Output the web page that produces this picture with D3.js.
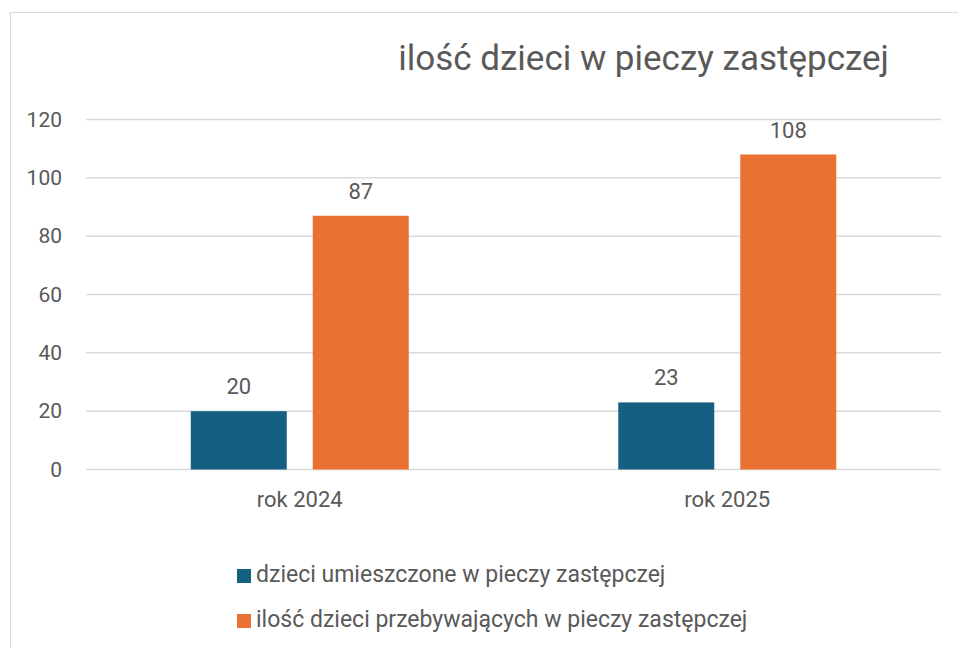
<!DOCTYPE html>
<html>
<head>
<meta charset="utf-8">
<script src="https://cdn.jsdelivr.net/npm/d3@7"></script>
<style>
  html, body { margin: 0; padding: 0; background: #fff; }
  svg text { font-family: Roboto, "Liberation Sans", sans-serif; fill: #595959; }
</style>
</head>
<body>
<svg class="chart"></svg>
<script>
const categories = ["rok 2024", "rok 2025"]
const seriesNames = ["dzieci umieszczone w pieczy zastępczej", "ilość dzieci przebywających w pieczy zastępczej"]
const placed = [20, 23]
const staying = [87, 108]
const yTicks = [0, 20, 40, 60, 80, 100, 120]
const colors = ["#156082", "#E97132"]

const W = 958, H = 648
const svg = d3.select(".chart").attr("width", W).attr("height", H)

// outer chart frame (runs off the right and bottom)
svg.append("rect")
    .attr("x", 10.5).attr("y", 12.5)
    .attr("width", 1000).attr("height", 1000)
    .attr("fill", "#fff").attr("stroke", "#d9d9d9").attr("stroke-width", 1)

svg.append("text")
    .attr("x", 889).attr("y", 70)
    .attr("text-anchor", "end")
    .style("font-size", "35px")
    .text("ilość dzieci w pieczy zastępczej")

const plot = { left: 86, right: 941, top: 119.5, bottom: 469.5 }

const x = d3.scaleBand().domain(categories).range([plot.left, plot.right])
const y = d3.scaleLinear().domain([0, 120]).range([plot.bottom, plot.top])

// gridlines
svg.append("g").selectAll("line").data(yTicks).join("line")
    .attr("x1", plot.left).attr("x2", plot.right)
    .attr("y1", d => y(d)).attr("y2", d => y(d))
    .attr("stroke", "#d9d9d9").attr("stroke-width", 1.5)

// y axis labels
const yAxis = d3.axisLeft(y).tickValues(yTicks).tickSize(0).tickPadding(0)
const gy = svg.append("g").attr("transform", "translate(62,0)").call(yAxis)
gy.select(".domain").remove()
gy.selectAll("text").style("font-size", "21px").attr("fill", "#595959")
    .style("font-family", "Roboto, 'Liberation Sans', sans-serif")

// x axis labels
const xAxis = d3.axisBottom(x).tickSize(0).tickPadding(0)
const gx = svg.append("g").attr("transform", "translate(0," + (plot.bottom + 22) + ")").call(xAxis)
gx.select(".domain").remove()
gx.selectAll("text").style("font-size", "22px").attr("fill", "#595959")
    .style("font-family", "Roboto, 'Liberation Sans', sans-serif")

// bars
const barW = 96, gap = 26
const series = [placed, staying]
const rows = []
categories.forEach((c, i) => series.forEach((s, j) => rows.push({ cat: c, s: j, v: s[i] })))
const offset = j => x.bandwidth() / 2 - (barW * 2 + gap) / 2 + j * (barW + gap)

svg.append("g").selectAll("rect").data(rows).join("rect")
    .attr("x", d => x(d.cat) + offset(d.s))
    .attr("y", d => y(d.v))
    .attr("width", barW)
    .attr("height", d => y(0) - y(d.v))
    .attr("fill", d => colors[d.s])

svg.append("g").selectAll("text").data(rows).join("text")
    .attr("x", d => x(d.cat) + offset(d.s) + barW / 2)
    .attr("y", d => y(d.v) - 17)
    .attr("text-anchor", "middle")
    .style("font-size", "22px")
    .text(d => d.v)

// legend
const leg = svg.append("g")
seriesNames.forEach((n, i) => {
    const ly = 582 + i * 45
    leg.append("rect").attr("x", 237).attr("y", ly - 13).attr("width", 14).attr("height", 14).attr("fill", colors[i])
    leg.append("text").attr("x", 256).attr("y", ly).style("font-size", "23px").text(n)
})
</script>
</body>
</html>
